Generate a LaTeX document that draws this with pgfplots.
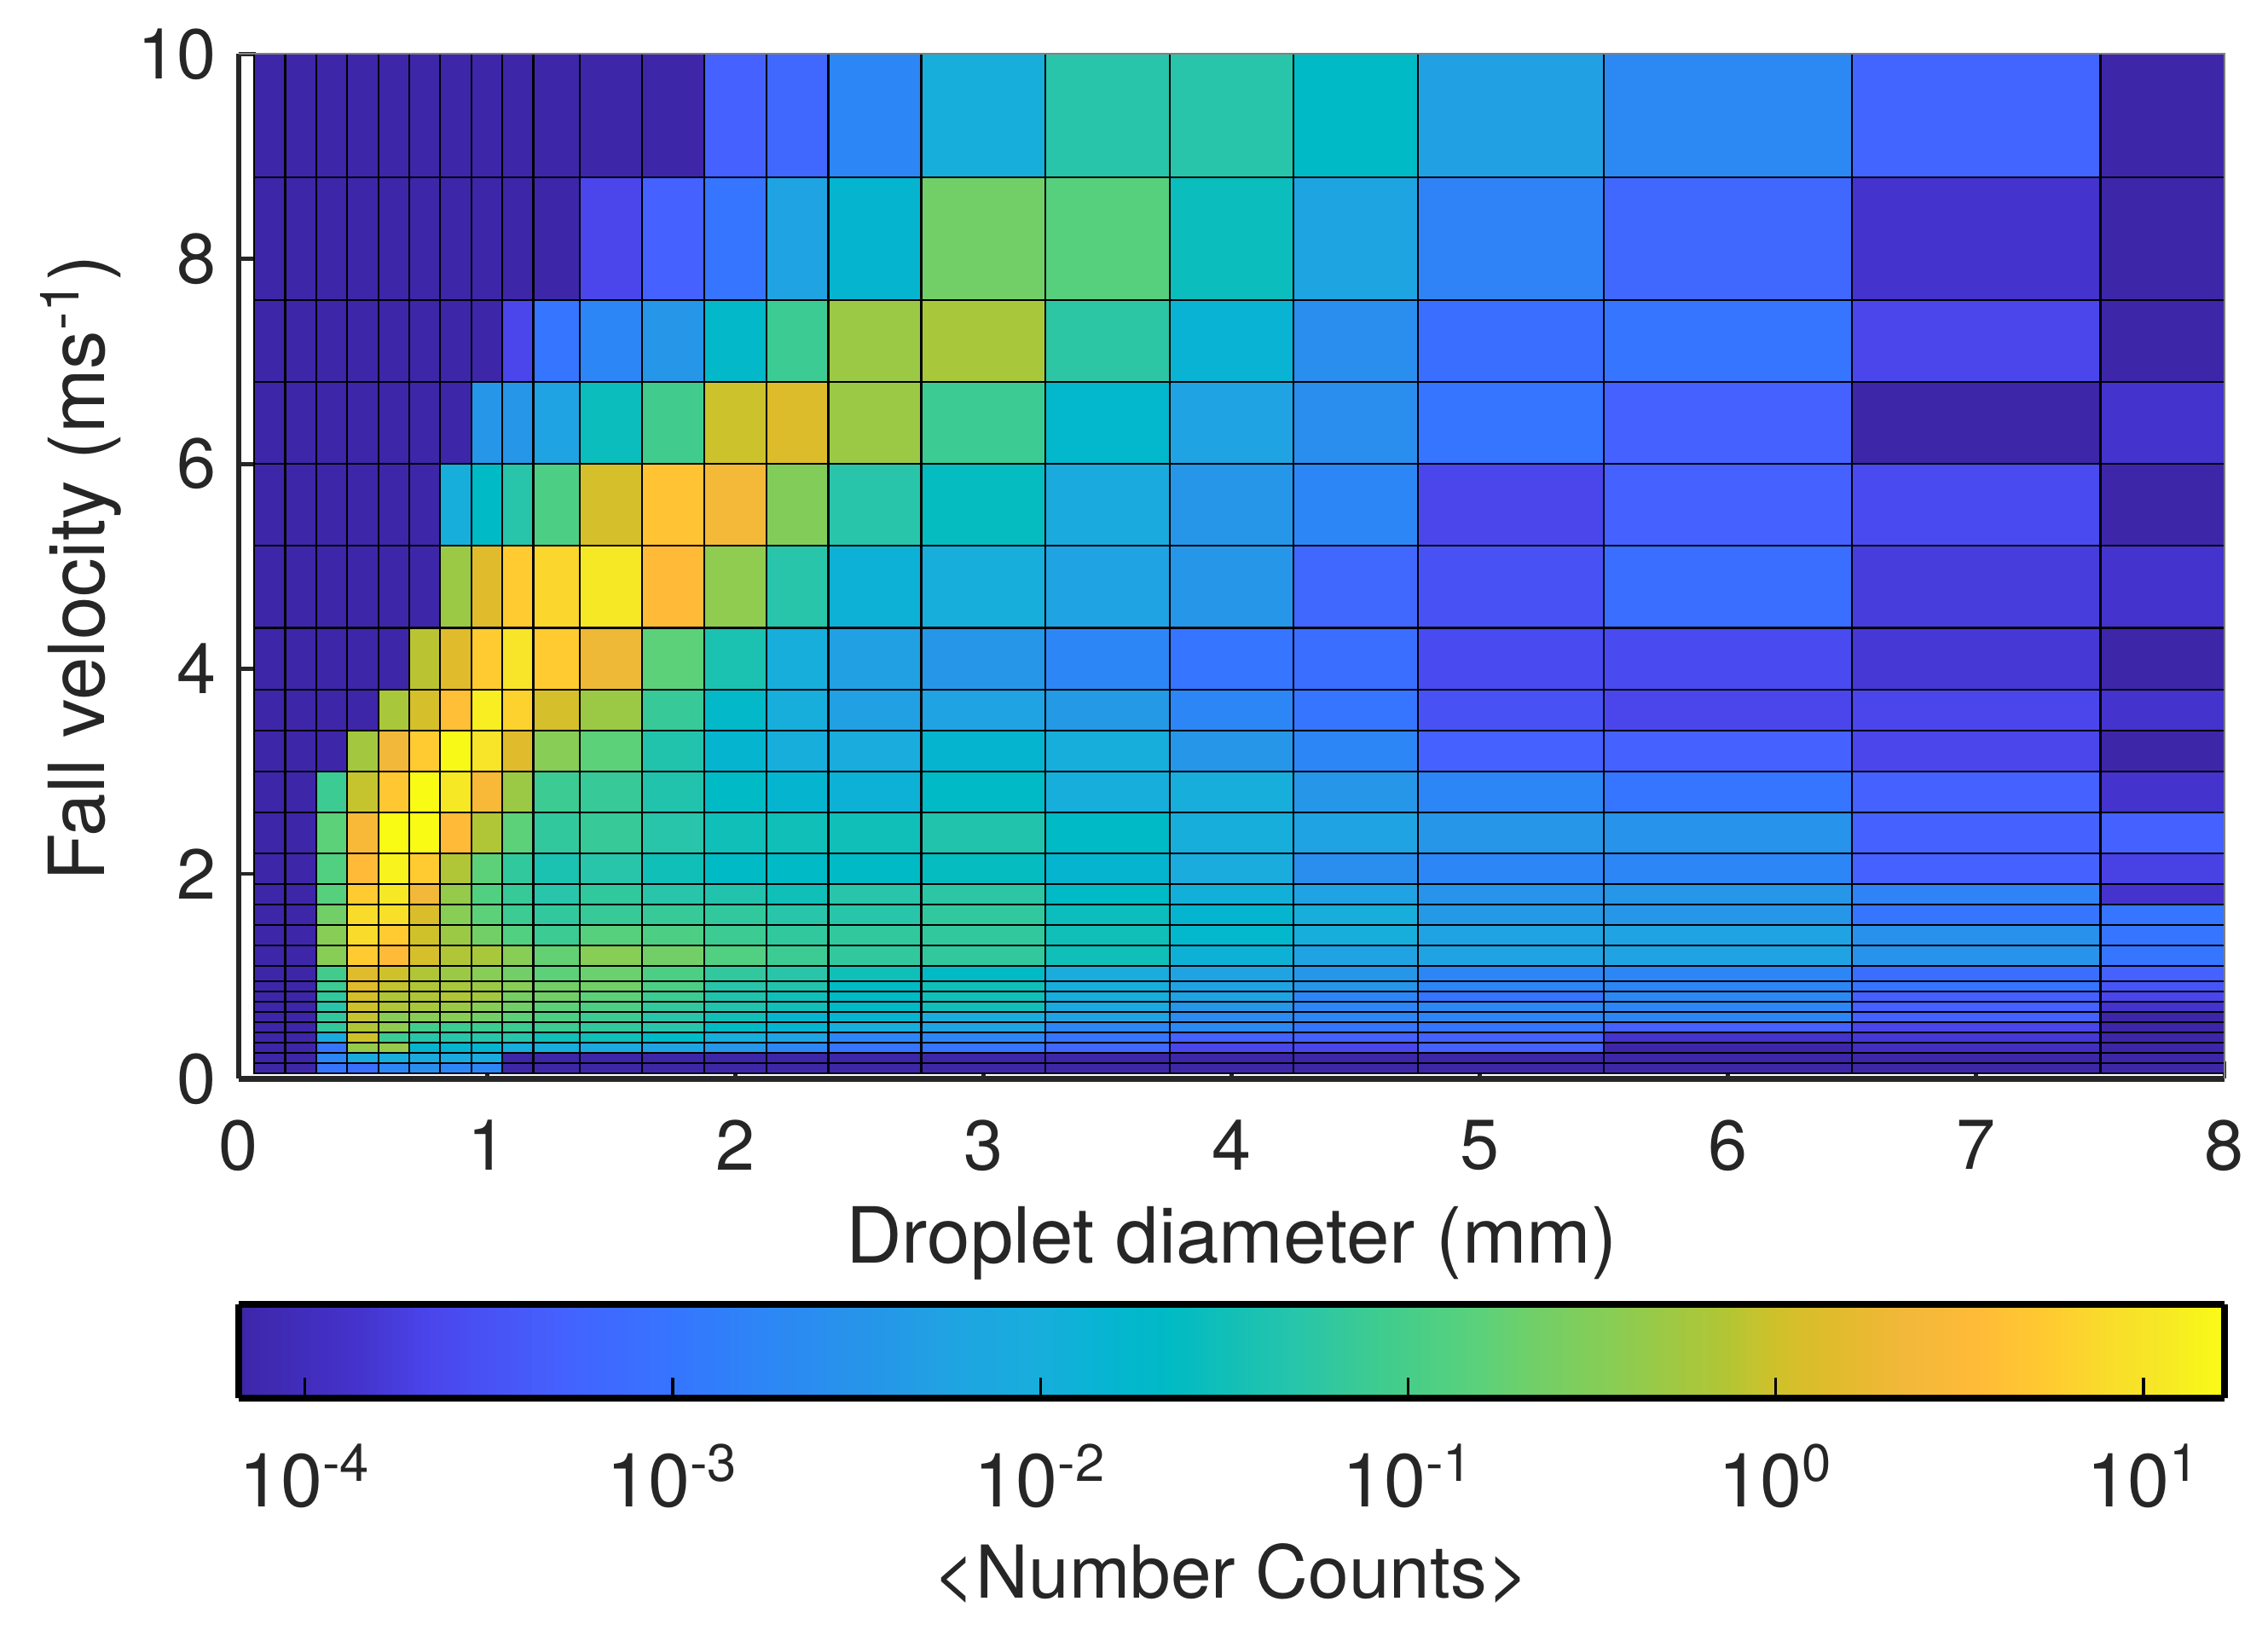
\documentclass[border=0pt]{standalone}
\usepackage{fontspec}
\setmainfont{TeX Gyre Heros}
\usepackage{pgfplots}
\pgfplotsset{compat=1.18}
\definecolor{dk}{HTML}{262626}
\pgfplotsset{colormap={dsd}{
rgb255(0pt)=(62,38,168); rgb255(33pt)=(68,51,204); rgb255(53pt)=(74,70,236); rgb255(88pt)=(69,97,255);
rgb255(118pt)=(53,117,255); rgb255(143pt)=(45,134,245); rgb255(173pt)=(38,150,232); rgb255(193pt)=(32,163,226);
rgb255(218pt)=(23,174,220); rgb255(238pt)=(5,181,208); rgb255(253pt)=(0,186,197); rgb255(268pt)=(16,191,184);
rgb255(288pt)=(40,197,170); rgb255(308pt)=(60,203,146); rgb255(323pt)=(76,207,133); rgb255(338pt)=(92,209,122);
rgb255(353pt)=(114,207,104); rgb255(373pt)=(136,205,85); rgb255(388pt)=(156,201,69); rgb255(403pt)=(176,198,54);
rgb255(418pt)=(207,193,42); rgb255(433pt)=(224,187,43); rgb255(453pt)=(242,184,58); rgb255(473pt)=(255,187,56);
rgb255(493pt)=(255,203,48); rgb255(508pt)=(249,220,43); rgb255(523pt)=(247,232,38); rgb255(540pt)=(249,251,21)}}
\begin{document}
\begin{tikzpicture}
\path[use as bounding box] (0,0) rectangle (665pt,479.75pt);
\begin{axis}[
  at={(70pt,163.4pt)}, anchor=south west,
  scale only axis, width=582.25pt, height=300.5pt,
  xmin=0, xmax=8, ymin=0, ymax=10,
  xtick={0,...,8}, ytick={0,2,...,10},
  axis x line*=bottom, axis y line*=left,
  axis line style={-, line width=1.6pt, color=dk},
  tick align=inside, major tick length=5pt, tick style={color=dk, line width=1.2pt},
  /pgf/number format/assume math mode=true,
  tick label style={font=\fontsize{20.7}{24}\selectfont, text=dk},
  label style={font=\fontsize{22.7}{26}\selectfont, text=dk},
  xticklabel style={yshift=-8.6pt},
  yticklabel style={xshift=-3pt},
  xlabel style={yshift=-3.5pt},
  ylabel style={yshift=-2pt, xshift=-.5pt},
  xlabel={Droplet diameter (mm)},
  ylabel={Fall velocity (ms\textsuperscript{-1})},
  colormap name=dsd,
  point meta min=-4.18, point meta max=1.22,
  colorbar horizontal,
  colorbar sampled,
  colorbar style={
    samples=271,
    at={(parent axis.south west)}, anchor=north west, yshift=-57.5pt,
    width=582.25pt, height=27.5pt,
    xtick={-4,-3,-2,-1,0,1},
    xticklabels={10\textsuperscript{-4},10\textsuperscript{-3},10\textsuperscript{-2},10\textsuperscript{-1},10\textsuperscript{0},10\textsuperscript{1}},
    axis line style={line width=2pt, color=black},
    tick align=inside, major tick length=6pt, xtick style={color=black, line width=.8pt},
    xtick pos=lower, xticklabel pos=lower,
    xticklabel style={yshift=-10pt},
    tick label style={font=\fontsize{22}{26}\selectfont, text=dk},
    xlabel={<Number Counts>},
    xlabel style={font=\fontsize{21.4}{25}\selectfont, text=dk, yshift=-3.5pt},
  },
  after end axis/.code={\draw[gray, line width=.5pt] (rel axis cs:0,1)--(rel axis cs:1,1)--(rel axis cs:1,0);},
]
\addplot[surf, shader=flat corner, draw=black, line width=.55pt, mesh/cols=24, mesh/ordering=x varies, point meta=\thisrow{c}] table[row sep=\\, x=x, y=y] {
x y c\\
.062 .05 -4.18\\ .187 .05 -4.18\\ .312 .05 -3\\ .437 .05 -3.1\\ .562 .05 -2.75\\ .687 .05 -2.6\\ .812 .05 -2.75\\ .937 .05 -2.75\\ 1.062 .05 -4.18\\ 1.187 .05 -4.18\\ 1.375 .05 -4.18\\ 1.625 .05 -4.18\\ 1.875 .05 -4.18\\ 2.125 .05 -4.18\\ 2.375 .05 -4.18\\ 2.75 .05 -4.18\\ 3.25 .05 -4.18\\ 3.75 .05 -4.18\\ 4.25 .05 -4.18\\ 4.75 .05 -4.18\\ 5.5 .05 -4.18\\ 6.5 .05 -4.18\\ 7.5 .05 -4.18\\ 8 .05 -4.18\\
.062 .15 -4.18\\ .187 .15 -4.18\\ .312 .15 -2.75\\ .437 .15 -2.1\\ .562 .15 -2\\ .687 .15 -2.1\\ .812 .15 -2.1\\ .937 .15 -2.1\\ 1.062 .15 -4.18\\ 1.187 .15 -4.18\\ 1.375 .15 -4.18\\ 1.625 .15 -4.18\\ 1.875 .15 -4.18\\ 2.125 .15 -4.18\\ 2.375 .15 -4.18\\ 2.75 .15 -4.18\\ 3.25 .15 -4.18\\ 3.75 .15 -4.18\\ 4.25 .15 -4.18\\ 4.75 .15 -4.18\\ 5.5 .15 -4.18\\ 6.5 .15 -4.18\\ 7.5 .15 -4.18\\ 8 .15 -4.18\\
.062 .25 -4.18\\ .187 .25 -4.18\\ .312 .25 -3\\ .437 .25 -.35\\ .562 .25 -.35\\ .687 .25 -1.8\\ .812 .25 -1.8\\ .937 .25 -1.8\\ 1.062 .25 -2\\ 1.187 .25 -2\\ 1.375 .25 -2.1\\ 1.625 .25 -2.25\\ 1.875 .25 -2.45\\ 2.125 .25 -2.75\\ 2.375 .25 -3\\ 2.75 .25 -3\\ 3.25 .25 -3.2\\ 3.75 .25 -3.65\\ 4.25 .25 -3.65\\ 4.75 .25 -3.3\\ 5.5 .25 -4.18\\ 6.5 .25 -3.95\\ 7.5 .25 -4.18\\ 8 .25 -4.18\\
.062 .35 -4.18\\ .187 .35 -4.18\\ .312 .35 -2.1\\ .437 .35 0\\ .562 .35 -1.1\\ .687 .35 -1.3\\ .812 .35 -1.3\\ .937 .35 -1.3\\ 1.062 .35 -1.3\\ 1.187 .35 -1.5\\ 1.375 .35 -1.5\\ 1.625 .35 -1.65\\ 1.875 .35 -2\\ 2.125 .35 -2.25\\ 2.375 .35 -2.75\\ 2.75 .35 -2.75\\ 3.25 .35 -3\\ 3.75 .35 -3.3\\ 4.25 .35 -3.3\\ 4.75 .35 -3.3\\ 5.5 .35 -3.85\\ 6.5 .35 -3.8\\ 7.5 .35 -4.18\\ 8 .35 -4.18\\
.062 .45 -4.18\\ .187 .45 -4.18\\ .312 .45 -1.2\\ .437 .45 -.15\\ .562 .45 -.4\\ .687 .45 -1.05\\ .812 .45 -1.1\\ .937 .45 -1.1\\ 1.062 .45 -1.1\\ 1.187 .45 -1.1\\ 1.375 .45 -1.2\\ 1.625 .45 -1.3\\ 1.875 .45 -1.65\\ 2.125 .45 -1.8\\ 2.375 .45 -2\\ 2.75 .45 -2.25\\ 3.25 .45 -2.75\\ 3.75 .45 -2.7\\ 4.25 .45 -3\\ 4.75 .45 -3\\ 5.5 .45 -3.3\\ 6.5 .45 -3.65\\ 7.5 .45 -4.18\\ 8 .45 -4.18\\
.062 .55 -4.18\\ .187 .55 -4.18\\ .312 .55 -1.2\\ .437 .55 -.05\\ .562 .55 -.45\\ .687 .55 -.45\\ .812 .55 -.45\\ .937 .55 -.65\\ 1.062 .55 -.8\\ 1.187 .55 -.95\\ 1.375 .55 -1.1\\ 1.625 .55 -1.3\\ 1.875 .55 -1.5\\ 2.125 .55 -1.8\\ 2.375 .55 -1.8\\ 2.75 .55 -2.05\\ 3.25 .55 -2.25\\ 3.75 .55 -2.65\\ 4.25 .55 -2.75\\ 4.75 .55 -2.75\\ 5.5 .55 -2.75\\ 6.5 .55 -3.3\\ 7.5 .55 -4.18\\ 8 .55 -4.18\\
.062 .65 -4.18\\ .187 .65 -4.18\\ .312 .65 -1.3\\ .437 .65 0\\ .562 .65 -.15\\ .687 .65 -.2\\ .812 .65 -.3\\ .937 .65 -.45\\ 1.062 .65 -.65\\ 1.187 .65 -.8\\ 1.375 .65 -.95\\ 1.625 .65 -1.2\\ 1.875 .65 -1.35\\ 2.125 .65 -1.5\\ 2.375 .65 -1.65\\ 2.75 .65 -1.5\\ 3.25 .65 -2.1\\ 3.75 .65 -2.45\\ 4.25 .65 -2.75\\ 4.75 .65 -2.7\\ 5.5 .65 -2.75\\ 6.5 .65 -3.3\\ 7.5 .65 -3.85\\ 8 .65 -4.18\\
.062 .75 -4.18\\ .187 .75 -4.18\\ .312 .75 -1.2\\ .437 .75 .05\\ .562 .75 -.15\\ .687 .75 -.15\\ .812 .75 -.15\\ .937 .75 -.25\\ 1.062 .75 -.6\\ 1.187 .75 -.65\\ 1.375 .75 -.8\\ 1.625 .75 -1.1\\ 1.875 .75 -1.35\\ 2.125 .75 -1.5\\ 2.375 .75 -1.65\\ 2.75 .75 -1.5\\ 3.25 .75 -2\\ 3.75 .75 -2.25\\ 4.25 .75 -2.75\\ 4.75 .75 -3\\ 5.5 .75 -2.7\\ 6.5 .75 -3.3\\ 7.5 .75 -3.65\\ 8 .75 -4.18\\
.062 .85 -4.18\\ .187 .85 -4.18\\ .312 .85 -1.1\\ .437 .85 .15\\ .562 .85 -.05\\ .687 .85 -.15\\ .812 .85 -.2\\ .937 .85 -.3\\ 1.062 .85 -.45\\ 1.187 .85 -.65\\ 1.375 .85 -.65\\ 1.625 .85 -.95\\ 1.875 .85 -1.3\\ 2.125 .85 -1.35\\ 2.375 .85 -1.65\\ 2.75 .85 -1.5\\ 3.25 .85 -2\\ 3.75 .85 -2.25\\ 4.25 .85 -2.45\\ 4.75 .85 -2.75\\ 5.5 .85 -2.75\\ 6.5 .85 -3\\ 7.5 .85 -3.45\\ 8 .85 -4.18\\
.062 .95 -4.18\\ .187 .95 -4.18\\ .312 .95 -1.05\\ .437 .95 .15\\ .562 .95 0\\ .687 .95 -.15\\ .812 .95 -.3\\ .937 .95 -.45\\ 1.062 .95 -.65\\ 1.187 .95 -.8\\ 1.375 .95 -.7\\ 1.625 .95 -.95\\ 1.875 .95 -1.2\\ 2.125 .95 -1.3\\ 2.375 .95 -1.5\\ 2.75 .95 -1.65\\ 3.25 .95 -2.05\\ 3.75 .95 -2.25\\ 4.25 .95 -2.45\\ 4.75 .95 -2.75\\ 5.5 .95 -2.75\\ 6.5 .95 -3.1\\ 7.5 .95 -3.3\\ 8 .95 -4.18\\
.062 1.1 -4.18\\ .187 1.1 -4.18\\ .312 1.1 -.45\\ .437 1.1 .75\\ .562 1.1 .55\\ .687 1.1 .05\\ .812 1.1 -.15\\ .937 1.1 -.2\\ 1.062 1.1 -.45\\ 1.187 1.1 -.75\\ 1.375 1.1 -.45\\ 1.625 1.1 -.65\\ 1.875 1.1 -.9\\ 2.125 1.1 -1.1\\ 2.375 1.1 -1.2\\ 2.75 1.1 -1.2\\ 3.25 1.1 -1.5\\ 3.75 1.1 -1.9\\ 4.25 1.1 -2.25\\ 4.75 1.1 -2.25\\ 5.5 1.1 -2.25\\ 6.5 1.1 -2.5\\ 7.5 1.1 -3\\ 8 1.1 -4.18\\
.062 1.3 -4.18\\ .187 1.3 -4.18\\ .312 1.3 -.45\\ .437 1.3 .9\\ .562 1.3 .75\\ .687 1.3 0\\ .812 1.3 -.3\\ .937 1.3 -.65\\ 1.062 1.3 -.9\\ 1.187 1.3 -1.1\\ 1.375 1.3 -.85\\ 1.625 1.3 -.95\\ 1.875 1.3 -1.1\\ 2.125 1.3 -1.2\\ 2.375 1.3 -1.2\\ 2.75 1.3 -1.2\\ 3.25 1.3 -1.5\\ 3.75 1.3 -1.75\\ 4.25 1.3 -2\\ 4.75 1.3 -2.25\\ 5.5 1.3 -2.25\\ 6.5 1.3 -2.55\\ 7.5 1.3 -3\\ 8 1.3 -4.18\\
.062 1.5 -4.18\\ .187 1.5 -4.18\\ .312 1.5 -.65\\ .437 1.5 .9\\ .562 1.5 .95\\ .687 1.5 .1\\ .812 1.5 -.45\\ .937 1.5 -.8\\ 1.062 1.5 -1.1\\ 1.187 1.5 -1.2\\ 1.375 1.5 -1.15\\ 1.625 1.5 -1.15\\ 1.875 1.5 -1.2\\ 2.125 1.5 -1.3\\ 2.375 1.5 -1.3\\ 2.75 1.5 -1.2\\ 3.25 1.5 -1.55\\ 3.75 1.5 -1.8\\ 4.25 1.5 -2\\ 4.75 1.5 -2.4\\ 5.5 1.5 -2.45\\ 6.5 1.5 -3\\ 7.5 1.5 -3\\ 8 1.5 -4.18\\
.062 1.7 -4.18\\ .187 1.7 -4.18\\ .312 1.7 -.85\\ .437 1.7 .75\\ .562 1.7 1.05\\ .687 1.7 .35\\ .812 1.7 -.35\\ .937 1.7 -.9\\ 1.062 1.7 -1.15\\ 1.187 1.7 -1.3\\ 1.375 1.7 -1.2\\ 1.625 1.7 -1.3\\ 1.875 1.7 -1.35\\ 2.125 1.7 -1.5\\ 2.375 1.7 -1.3\\ 2.75 1.7 -1.25\\ 3.25 1.7 -1.65\\ 3.75 1.7 -1.95\\ 4.25 1.7 -2.25\\ 4.75 1.7 -2.5\\ 5.5 1.7 -2.45\\ 6.5 1.7 -2.8\\ 7.5 1.7 -3.85\\ 8 1.7 -4.18\\
.062 1.9 -4.18\\ .187 1.9 -4.18\\ .312 1.9 -.9\\ .437 1.9 .55\\ .562 1.9 1.15\\ .687 1.9 .75\\ .812 1.9 -.15\\ .937 1.9 -.8\\ 1.062 1.9 -1.2\\ 1.187 1.9 -1.4\\ 1.375 1.9 -1.3\\ 1.625 1.9 -1.5\\ 1.875 1.9 -1.65\\ 2.125 1.9 -1.65\\ 2.375 1.9 -1.65\\ 2.75 1.9 -1.6\\ 3.25 1.9 -1.8\\ 3.75 1.9 -2.05\\ 4.25 1.9 -2.6\\ 4.75 1.9 -2.75\\ 5.5 1.9 -2.75\\ 6.5 1.9 -3.3\\ 7.5 1.9 -3.7\\ 8 1.9 -4.18\\
.062 2.2 -4.18\\ .187 2.2 -4.18\\ .312 2.2 -.8\\ .437 2.2 .45\\ .562 2.2 1.22\\ .687 2.2 1.22\\ .812 2.2 .55\\ .937 2.2 -.15\\ 1.062 2.2 -.8\\ 1.187 2.2 -1.2\\ 1.375 2.2 -1.15\\ 1.625 2.2 -1.3\\ 1.875 2.2 -1.5\\ 2.125 2.2 -1.5\\ 2.375 2.2 -1.5\\ 2.75 2.2 -1.35\\ 3.25 2.2 -1.65\\ 3.75 2.2 -2\\ 4.25 2.2 -2.25\\ 4.75 2.2 -2.45\\ 5.5 2.2 -2.5\\ 6.5 2.2 -3.3\\ 7.5 2.2 -3.3\\ 8 2.2 -4.18\\
.062 2.6 -4.18\\ .187 2.6 -4.18\\ .312 2.6 -1.1\\ .437 2.6 -.05\\ .562 2.6 .7\\ .687 2.6 1.22\\ .812 2.6 1.05\\ .937 2.6 .45\\ 1.062 2.6 -.3\\ 1.187 2.6 -1.1\\ 1.375 2.6 -1.15\\ 1.625 2.6 -1.35\\ 1.875 2.6 -1.65\\ 2.125 2.6 -1.8\\ 2.375 2.6 -1.9\\ 2.75 2.6 -1.65\\ 3.25 2.6 -2\\ 3.75 2.6 -2\\ 4.25 2.6 -2.45\\ 4.75 2.6 -2.75\\ 5.5 2.6 -3\\ 6.5 2.6 -3.3\\ 7.5 2.6 -3.85\\ 8 2.6 -4.18\\
.062 3 -4.18\\ .187 3 -4.18\\ .312 3 -4.18\\ .437 3 -.25\\ .562 3 .35\\ .687 3 .75\\ .812 3 1.2\\ .937 3 1\\ 1.062 3 .15\\ 1.187 3 -.45\\ 1.375 3 -.8\\ 1.625 3 -1.35\\ 1.875 3 -1.8\\ 2.125 3 -2\\ 2.375 3 -2.05\\ 2.75 3 -1.8\\ 3.25 3 -2\\ 3.75 3 -2.45\\ 4.25 3 -2.75\\ 4.75 3 -3.3\\ 5.5 3 -3.3\\ 6.5 3 -3.65\\ 7.5 3 -4.18\\ 8 3 -4.18\\
.062 3.4 -4.18\\ .187 3.4 -4.18\\ .312 3.4 -4.18\\ .437 3.4 -4.18\\ .562 3.4 -.2\\ .687 3.4 .05\\ .812 3.4 .6\\ .937 3.4 1.1\\ 1.062 3.4 .8\\ 1.187 3.4 .05\\ 1.375 3.4 -.3\\ 1.625 3.4 -1.15\\ 1.875 3.4 -1.7\\ 2.125 3.4 -2\\ 2.375 3.4 -2.3\\ 2.75 3.4 -2.25\\ 3.25 3.4 -2.4\\ 3.75 3.4 -2.75\\ 4.25 3.4 -3\\ 4.75 3.4 -3.5\\ 5.5 3.4 -3.65\\ 6.5 3.4 -3.65\\ 7.5 3.4 -3.85\\ 8 3.4 -4.18\\
.062 3.8 -4.18\\ .187 3.8 -4.18\\ .312 3.8 -4.18\\ .437 3.8 -4.18\\ .562 3.8 -4.18\\ .687 3.8 -.1\\ .812 3.8 .15\\ .937 3.8 .75\\ 1.062 3.8 1\\ 1.187 3.8 .75\\ 1.375 3.8 .3\\ 1.625 3.8 -.8\\ 1.875 3.8 -1.4\\ 2.125 3.8 -2\\ 2.375 3.8 -2.3\\ 2.75 3.8 -2.45\\ 3.25 3.8 -2.75\\ 3.75 3.8 -3\\ 4.25 3.8 -3.1\\ 4.75 3.8 -3.6\\ 5.5 3.8 -3.6\\ 6.5 3.8 -3.8\\ 7.5 3.8 -4.18\\ 8 3.8 -4.18\\
.062 4.4 -4.18\\ .187 4.4 -4.18\\ .312 4.4 -4.18\\ .437 4.4 -4.18\\ .562 4.4 -4.18\\ .687 4.4 -4.18\\ .812 4.4 -.3\\ .937 4.4 .15\\ 1.062 4.4 .75\\ 1.187 4.4 .85\\ 1.375 4.4 1.05\\ 1.625 4.4 .55\\ 1.875 4.4 -.4\\ 2.125 4.4 -1.3\\ 2.375 4.4 -1.9\\ 2.75 4.4 -2\\ 3.25 4.4 -2.25\\ 3.75 4.4 -2.45\\ 4.25 4.4 -3.2\\ 4.75 4.4 -3.5\\ 5.5 4.4 -3.1\\ 6.5 4.4 -3.75\\ 7.5 4.4 -3.85\\ 8 4.4 -4.18\\
.062 5.2 -4.18\\ .187 5.2 -4.18\\ .312 5.2 -4.18\\ .437 5.2 -4.18\\ .562 5.2 -4.18\\ .687 5.2 -4.18\\ .812 5.2 -2\\ .937 5.2 -1.65\\ 1.062 5.2 -1.3\\ 1.187 5.2 -.95\\ 1.375 5.2 .05\\ 1.625 5.2 .65\\ 1.875 5.2 .4\\ 2.125 5.2 -.5\\ 2.375 5.2 -1.3\\ 2.75 5.2 -1.6\\ 3.25 5.2 -2.1\\ 3.75 5.2 -2.45\\ 4.25 5.2 -2.75\\ 4.75 5.2 -3.65\\ 5.5 5.2 -3.3\\ 6.5 5.2 -3.6\\ 7.5 5.2 -4.18\\ 8 5.2 -4.18\\
.062 6 -4.18\\ .187 6 -4.18\\ .312 6 -4.18\\ .437 6 -4.18\\ .562 6 -4.18\\ .687 6 -4.18\\ .812 6 -4.18\\ .937 6 -2.45\\ 1.062 6 -2.45\\ 1.187 6 -2.25\\ 1.375 6 -1.55\\ 1.625 6 -1.05\\ 1.875 6 -.02\\ 2.125 6 .12\\ 2.375 6 -.3\\ 2.75 6 -1.1\\ 3.25 6 -1.75\\ 3.75 6 -2.25\\ 4.25 6 -2.6\\ 4.75 6 -3\\ 5.5 6 -3.3\\ 6.5 6 -4.18\\ 7.5 6 -3.85\\ 8 6 -4.18\\
.062 6.8 -4.18\\ .187 6.8 -4.18\\ .312 6.8 -4.18\\ .437 6.8 -4.18\\ .562 6.8 -4.18\\ .687 6.8 -4.18\\ .812 6.8 -4.18\\ .937 6.8 -4.18\\ 1.062 6.8 -3.65\\ 1.187 6.8 -3\\ 1.375 6.8 -2.75\\ 1.625 6.8 -2.45\\ 1.875 6.8 -1.7\\ 2.125 6.8 -1.1\\ 2.375 6.8 -.3\\ 2.75 6.8 -.2\\ 3.25 6.8 -1.25\\ 3.75 6.8 -1.85\\ 4.25 6.8 -2.6\\ 4.75 6.8 -3.1\\ 5.5 6.8 -3\\ 6.5 6.8 -3.65\\ 7.5 6.8 -4.18\\ 8 6.8 -4.18\\
.062 7.6 -4.18\\ .187 7.6 -4.18\\ .312 7.6 -4.18\\ .437 7.6 -4.18\\ .562 7.6 -4.18\\ .687 7.6 -4.18\\ .812 7.6 -4.18\\ .937 7.6 -4.18\\ 1.062 7.6 -4.18\\ 1.187 7.6 -4.18\\ 1.375 7.6 -3.65\\ 1.625 7.6 -3.3\\ 1.875 7.6 -3\\ 2.125 7.6 -2.25\\ 2.375 7.6 -1.8\\ 2.75 7.6 -.65\\ 3.25 7.6 -.85\\ 3.75 7.6 -1.55\\ 4.25 7.6 -2.2\\ 4.75 7.6 -2.8\\ 5.5 7.6 -3.2\\ 6.5 7.6 -3.85\\ 7.5 7.6 -4.18\\ 8 7.6 -4.18\\
.062 8.8 -4.18\\ .187 8.8 -4.18\\ .312 8.8 -4.18\\ .437 8.8 -4.18\\ .562 8.8 -4.18\\ .687 8.8 -4.18\\ .812 8.8 -4.18\\ .937 8.8 -4.18\\ 1.062 8.8 -4.18\\ 1.187 8.8 -4.18\\ 1.375 8.8 -4.18\\ 1.625 8.8 -4.18\\ 1.875 8.8 -3.3\\ 2.125 8.8 -3.2\\ 2.375 8.8 -2.75\\ 2.75 8.8 -2\\ 3.25 8.8 -1.3\\ 3.75 8.8 -1.3\\ 4.25 8.8 -1.65\\ 4.75 8.8 -2.3\\ 5.5 8.8 -2.7\\ 6.5 8.8 -3.25\\ 7.5 8.8 -4.18\\ 8 8.8 -4.18\\
.062 10 -4.18\\ .187 10 -4.18\\ .312 10 -4.18\\ .437 10 -4.18\\ .562 10 -4.18\\ .687 10 -4.18\\ .812 10 -4.18\\ .937 10 -4.18\\ 1.062 10 -4.18\\ 1.187 10 -4.18\\ 1.375 10 -4.18\\ 1.625 10 -4.18\\ 1.875 10 -4.18\\ 2.125 10 -4.18\\ 2.375 10 -4.18\\ 2.75 10 -4.18\\ 3.25 10 -4.18\\ 3.75 10 -4.18\\ 4.25 10 -4.18\\ 4.75 10 -4.18\\ 5.5 10 -4.18\\ 6.5 10 -4.18\\ 7.5 10 -4.18\\ 8 10 -4.18\\
};
\end{axis}
\end{tikzpicture}
\end{document}
